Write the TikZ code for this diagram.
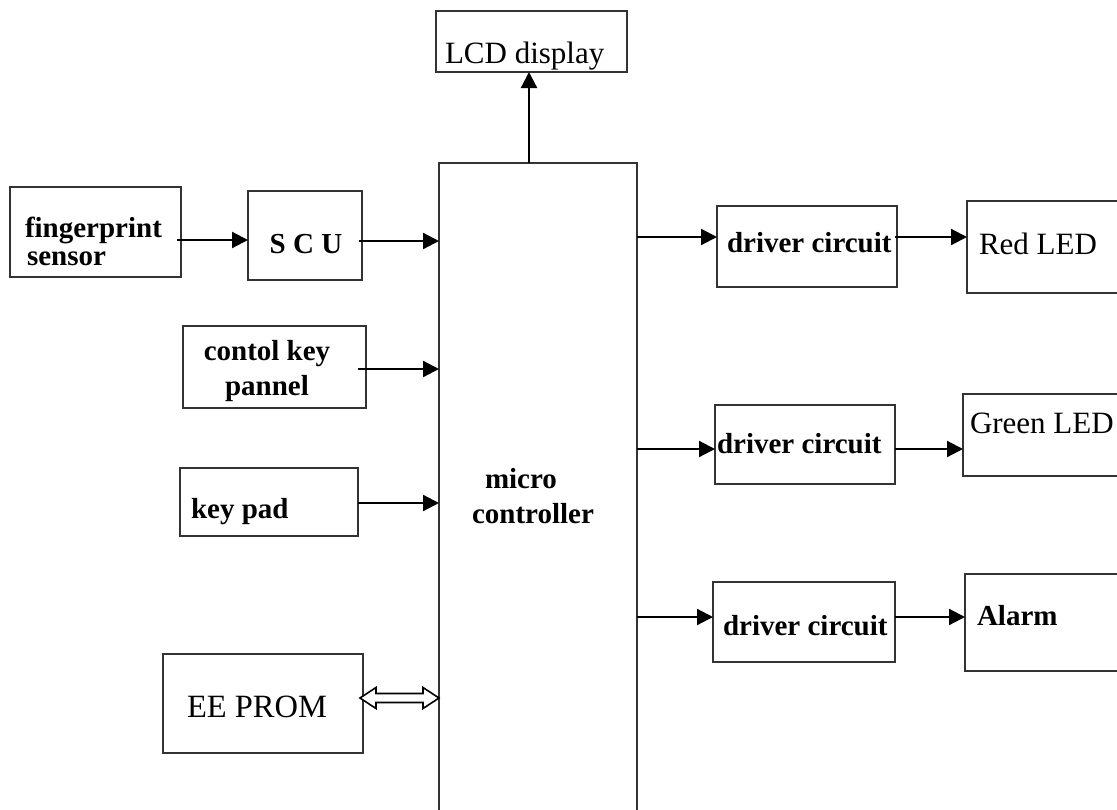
\documentclass[tikz,border=0pt]{standalone}
\usepackage{fontspec}
\setmainfont{Liberation Serif}
\usetikzlibrary{arrows.meta,calc}
\begin{document}
\begin{tikzpicture}[x=1pt,y=-1pt,
  box/.style={draw=black!80,line width=1.5pt,inner sep=0pt,outer sep=0pt,fill=none},
  bt/.style={inner sep=0pt,outer sep=0pt,font=\fontsize{29}{35}\selectfont\bfseries},
  rt/.style={inner sep=0pt,outer sep=0pt,font=\fontsize{31}{35}\selectfont},
  arr/.style={line width=2.2pt,-{Triangle[length=16pt,width=16pt]}}]
\useasboundingbox (0,0) rectangle (1117,809);
\clip (0,0) rectangle (1117,809);
% boxes
\node[box,minimum width=191pt,minimum height=61pt] (lcd) at (531.5,41.5) {};
\node[box,minimum width=198pt,minimum height=667pt] (mc) at (538,496.5) {};
\node[box,minimum width=171pt,minimum height=90pt] (fp) at (95.5,232) {};
\node[box,minimum width=114pt,minimum height=89pt] (scu) at (305,235.5) {};
\node[box,minimum width=183pt,minimum height=82pt] (ckp) at (274.5,367) {};
\node[box,minimum width=178pt,minimum height=68pt] (kp) at (269,502) {};
\node[box,minimum width=200pt,minimum height=99pt] (ee) at (263,703.5) {};
\node[box,minimum width=180pt,minimum height=81pt] (d1) at (807,246.5) {};
\node[box,minimum width=180pt,minimum height=79pt] (d2) at (805,444.5) {};
\node[box,minimum width=182pt,minimum height=80pt] (d3) at (804,622) {};
\node[box,minimum width=163pt,minimum height=92pt] (red) at (1048.5,247) {};
\node[box,minimum width=167pt,minimum height=82pt] (green) at (1046.5,435) {};
\node[box,minimum width=165pt,minimum height=97pt] (alarm) at (1047.5,622.5) {};
% texts (for two-line texts the base anchor is the last line's baseline)
\node[rt,anchor=base west] (tlcd) at (445,63) {LCD display};
\node[bt,anchor=base] (tscu) at (306,253) {S C U};
\node[bt,anchor=base west,align=left,font=\fontsize{29}{28}\selectfont\bfseries] (tfp) at (25,265) {fingerprint\\\hspace*{2pt}sensor};
\node[bt,anchor=base,align=center] (tckp) at (267,395) {contol key\\pannel};
\node[bt,anchor=base west] (tkp) at (191,518) {key pad};
\node[rt,anchor=base west,font=\fontsize{32.5}{35}\selectfont] (tee) at (187,717) {EE PROM};
\node[bt,anchor=base west,align=left] (tmc) at (472,523) {\hspace*{13pt}micro\\controller};
\node[bt,anchor=base west] (td1) at (727,252) {driver circuit};
\node[bt,anchor=base west] (td2) at (717,453) {driver circuit};
\node[bt,anchor=base west] (td3) at (723,635) {driver circuit};
\node[rt,anchor=base west] (tred) at (979,254) {Red LED};
\node[rt,anchor=base west] (tgreen) at (970,433) {Green LED};
\node[bt,anchor=base west] (talarm) at (977,625) {Alarm};
% connectors
\draw[arr] (mc.north -| 529,0) -- (lcd.south -| 529,0);
\draw[arr] ([xshift=-4pt,yshift=-8pt]fp.east) -- ([yshift=-8pt]fp.east -| scu.west);
\draw[arr] ([xshift=-3pt,yshift=-5.5pt]scu.east) -- ([yshift=-5.5pt]scu.east -| mc.west);
\draw[arr] ([xshift=-8pt,yshift=-2pt]ckp.east) -- ([yshift=-2pt]ckp.east -| mc.west);
\draw[arr] ([yshift=-1pt]kp.east) -- ([yshift=-1pt]kp.east -| mc.west);
\draw[arr] ([yshift=9.5pt]d1.west -| mc.east) -- ([yshift=9.5pt]d1.west);
\draw[arr] ([xshift=-2pt,yshift=9.5pt]d1.east) -- ([yshift=9.5pt]d1.east -| red.west);
\draw[arr] ([yshift=-4.5pt]d2.west -| mc.east) -- ([yshift=-4.5pt]d2.west);
\draw[arr] ([yshift=-4.5pt]d2.east) -- ([yshift=-4.5pt]d2.east -| green.west);
\draw[arr] ([yshift=5pt]d3.west -| mc.east) -- ([yshift=5pt]d3.west);
\draw[arr] ([yshift=5pt]d3.east) -- ([yshift=5pt]d3.east -| alarm.west);
% double arrow EE PROM <-> micro controller
\coordinate (ea) at ([xshift=-3pt,yshift=5.5pt]ee.east);
\coordinate (eb) at ([yshift=5.5pt]ee.east -| mc.west);
\draw[line width=1.6pt,fill=white,line join=miter]
  (ea) -- ++(16,-10.5) -- ++(0,6) -- ($(eb)+(-16,-4.5)$) -- ++(0,-6) -- (eb)
  -- ++(-16,10.5) -- ++(0,-6) -- ($(ea)+(16,4.5)$) -- ++(0,6) -- cycle;
\end{tikzpicture}
\end{document}
